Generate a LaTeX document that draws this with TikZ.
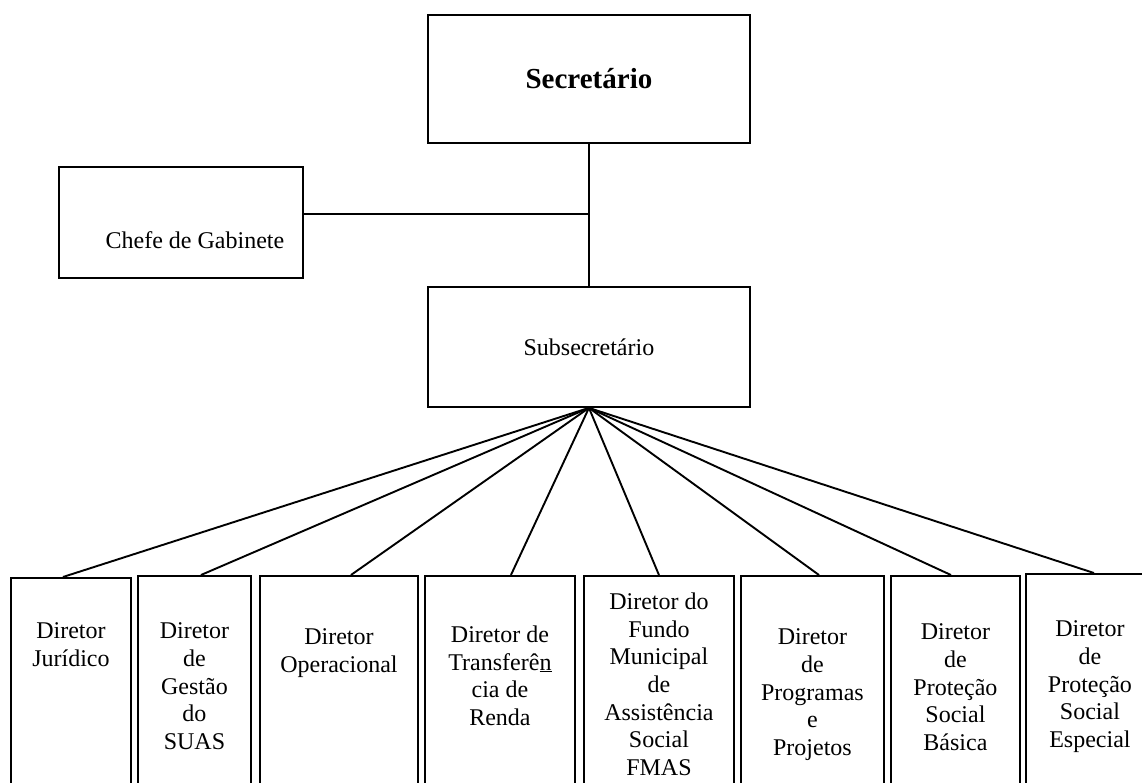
\documentclass[tikz,border=0pt]{standalone}
\usepackage{fontspec}
\setmainfont{Liberation Serif}
\usetikzlibrary{positioning}

\begin{document}
\begin{tikzpicture}[x = 1pt, y = -1pt, line width = 1.9pt,
    box/.style = { draw, rectangle, anchor = north west, inner sep = 0pt,
      font = \fontsize{24}{27.6}\selectfont },
    boxtext/.style = { align = center, anchor = north, inner sep = 0pt,
      font = \fontsize{24}{27.6}\selectfont }]
  \useasboundingbox (0,0) rectangle (1142,783);
  \clip (0,0) rectangle (1142,783);

  \node [box, minimum width = 322pt, minimum height = 128pt,
    font = \fontsize{29}{33}\selectfont\bfseries] (sec) at (427,14) { Secretário };
  \node [box, minimum width = 244pt, minimum height = 111pt] (chefe) at (58,166) {};
  \node [boxtext, below = 65pt of chefe.north, xshift = 17pt] (chefetxt) { Chefe de Gabinete };
  \node [box, minimum width = 322pt, minimum height = 120pt] (sub) at (427,286) { Subsecretário };

  % diretorias
  \node [box, minimum width = 120pt, minimum height = 240pt] (d1) at (10,577) {};
  \node [box, minimum width = 113pt, minimum height = 240pt] (d2) at (137,575) {};
  \node [box, minimum width = 158pt, minimum height = 240pt] (d3) at (259,575) {};
  \node [box, minimum width = 150pt, minimum height = 240pt] (d4) at (424,575) {};
  \node [box, minimum width = 150pt, minimum height = 240pt] (d5) at (583,575) {};
  \node [box, minimum width = 143pt, minimum height = 240pt] (d6) at (740,575) {};
  \node [box, minimum width = 129pt, minimum height = 240pt] (d7) at (890,575) {};
  \node [box, minimum width = 150pt, minimum height = 240pt] (d8) at (1025,573) {};

  \node [boxtext, below = 45pt of d1.north] (t1) { Diretor \\ Jurídico };
  \node [boxtext, below = 47pt of d2.north] (t2) { Diretor \\ de \\ Gestão \\ do \\ SUAS };
  \node [boxtext, below = 53pt of d3.north] (t3) { Diretor \\ Operacional };
  \node [boxtext, below = 50pt of d4.north] (t4) { Diretor de \\ Transferê\underline{n} \\ cia de \\ Renda };
  \node [boxtext, below = 17pt of d5.north] (t5) { Diretor do \\ Fundo \\ Municipal \\ de \\ Assistência \\ Social \\ FMAS };
  \node [boxtext, below = 53pt of d6.north] (t6) { Diretor \\ de \\ Programas \\ e \\ Projetos };
  \node [boxtext, below = 48pt of d7.north] (t7) { Diretor \\ de \\ Proteção \\ Social \\ Básica };
  \node [boxtext, below = 47pt of d8.north, xshift = -11pt] (t8) { Diretor \\ de \\ Proteção \\ Social \\ Especial };

  \draw (sec) -- (sub);
  \draw ([yshift = 8pt]chefe.east) -- ([yshift = 8pt]chefe.east -| sec.south);
  \foreach \d/\s in {d1/-8, d2/6.5, d3/12, d4/11, d5/0, d6/6.5, d7/-4.5, d8/-7}
    \draw (sub.south) -- ([xshift = \s pt]\d.north);
\end{tikzpicture}
\end{document}
